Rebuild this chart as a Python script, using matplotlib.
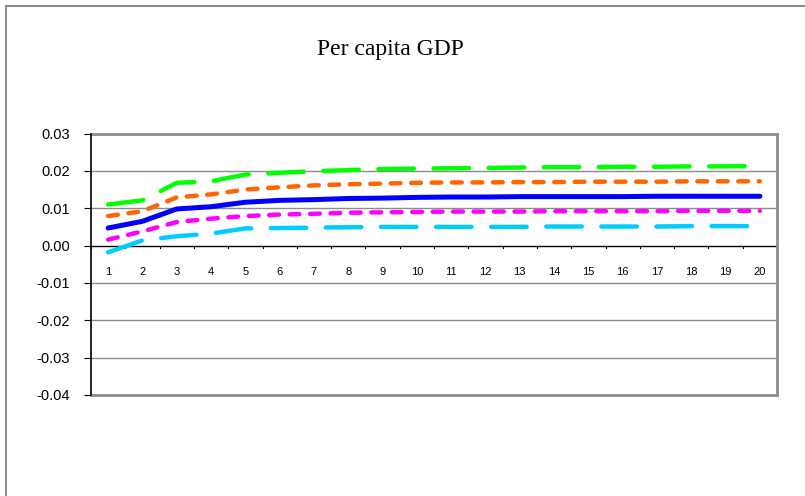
import matplotlib
matplotlib.use("Agg")
import matplotlib.pyplot as plt
from matplotlib.patches import Rectangle

periods = list(range(1, 21))
upper90 = [0.0110, 0.0121, 0.0168, 0.0172, 0.0190, 0.0195, 0.0199, 0.0202, 0.0205, 0.0206,
           0.0207, 0.0208, 0.0209, 0.0210, 0.0210, 0.0211, 0.0211, 0.0212, 0.0212, 0.0213]
upper68 = [0.0079, 0.0092, 0.0129, 0.0137, 0.0150, 0.0156, 0.0161, 0.0164, 0.0166, 0.0168,
           0.0169, 0.0169, 0.0170, 0.0170, 0.0171, 0.0171, 0.0171, 0.0172, 0.0172, 0.0172]
median = [0.0047, 0.0065, 0.0098, 0.0104, 0.0116, 0.0121, 0.0123, 0.0126, 0.0127, 0.0129,
          0.0130, 0.0130, 0.0131, 0.0131, 0.0131, 0.0131, 0.0132, 0.0132, 0.0132, 0.0132]
lower68 = [0.0016, 0.0038, 0.0063, 0.0072, 0.0079, 0.0083, 0.0085, 0.0088, 0.0089, 0.0090,
           0.0091, 0.0091, 0.0091, 0.0092, 0.0092, 0.0092, 0.0092, 0.0093, 0.0093, 0.0093]
lower90 = [-0.0018, 0.0014, 0.0025, 0.0032, 0.0046, 0.0047, 0.0048, 0.0049, 0.0050, 0.0050,
           0.0050, 0.0050, 0.0050, 0.0051, 0.0051, 0.0051, 0.0051, 0.0052, 0.0052, 0.0052]
yticks = [0.03, 0.02, 0.01, 0.00, -0.01, -0.02, -0.03, -0.04]
title = "Per capita GDP"

W, H = 805, 496
fig = plt.figure(figsize=(W / 100, H / 100), dpi=100)
fig.patch.set_facecolor("white")

# outer chart border
fig.patches.append(Rectangle((6 / W, -0.05), 1.2, 1 - 6 / H + 0.05, transform=fig.transFigure,
                             fill=False, edgecolor="#8c8c8c", linewidth=1.5, zorder=0))

left, right, top, bottom = 91, 777, 133.5, 395
ax = fig.add_axes([left / W, 1 - bottom / H, (right - left) / W, (bottom - top) / H])

x = list(range(len(periods)))
lw = 3.2
long_d = (8.0, 4.4)
short_d = (2.2, 2.4)
ax.plot(x, upper90, color="#00ff00", lw=lw, dashes=long_d, dash_capstyle="round", zorder=3)
ax.plot(x, upper68, color="#ff6600", lw=lw, dashes=short_d, dash_capstyle="round", zorder=3)
ax.plot(x, median, color="#0000ff", lw=lw + 0.4, solid_capstyle="round", zorder=4)
ax.plot(x, lower68, color="#ff00ff", lw=lw, dashes=short_d, dash_capstyle="round", zorder=3)
ax.plot(x, lower90, color="#00ccff", lw=lw, dashes=long_d, dash_capstyle="round", zorder=3)

ax.set_xlim(-0.5, len(periods) - 0.5)
ax.set_ylim(-0.04, 0.03)

# gridlines
for v in yticks:
    if v != 0:
        ax.axhline(v, color="#8c8c8c", lw=1.0, zorder=1)
# category axis at zero
ax.axhline(0, color="black", lw=1.0, zorder=2)
for b in range(len(periods) + 1):
    ax.plot([b - 0.5, b - 0.5], [0, -0.0007], color="black", lw=0.8, zorder=2, clip_on=False)
for i, p in enumerate(periods):
    ax.text(i, -0.0070, str(p), ha="center", va="center", fontsize=8, family="Liberation Sans")

ax.set_xticks([])
ax.set_yticks(yticks)
ax.set_yticklabels([f"{v:.2f}" for v in yticks], fontsize=10.5, family="Liberation Sans")
ax.tick_params(axis="y", direction="out", length=5, width=0.8, pad=10, colors="black")

for s in ["top", "right", "bottom"]:
    ax.spines[s].set_color("#8c8c8c")
    ax.spines[s].set_linewidth(2.0)
ax.spines["left"].set_color("black")
ax.spines["left"].set_linewidth(1.2)
ax.spines["left"].set_zorder(5)

fig.text(390 / W, 1 - 50 / H, title, ha="center", va="center", fontsize=17, family="Liberation Serif")

fig.savefig("out.png", dpi=100, facecolor="white")
